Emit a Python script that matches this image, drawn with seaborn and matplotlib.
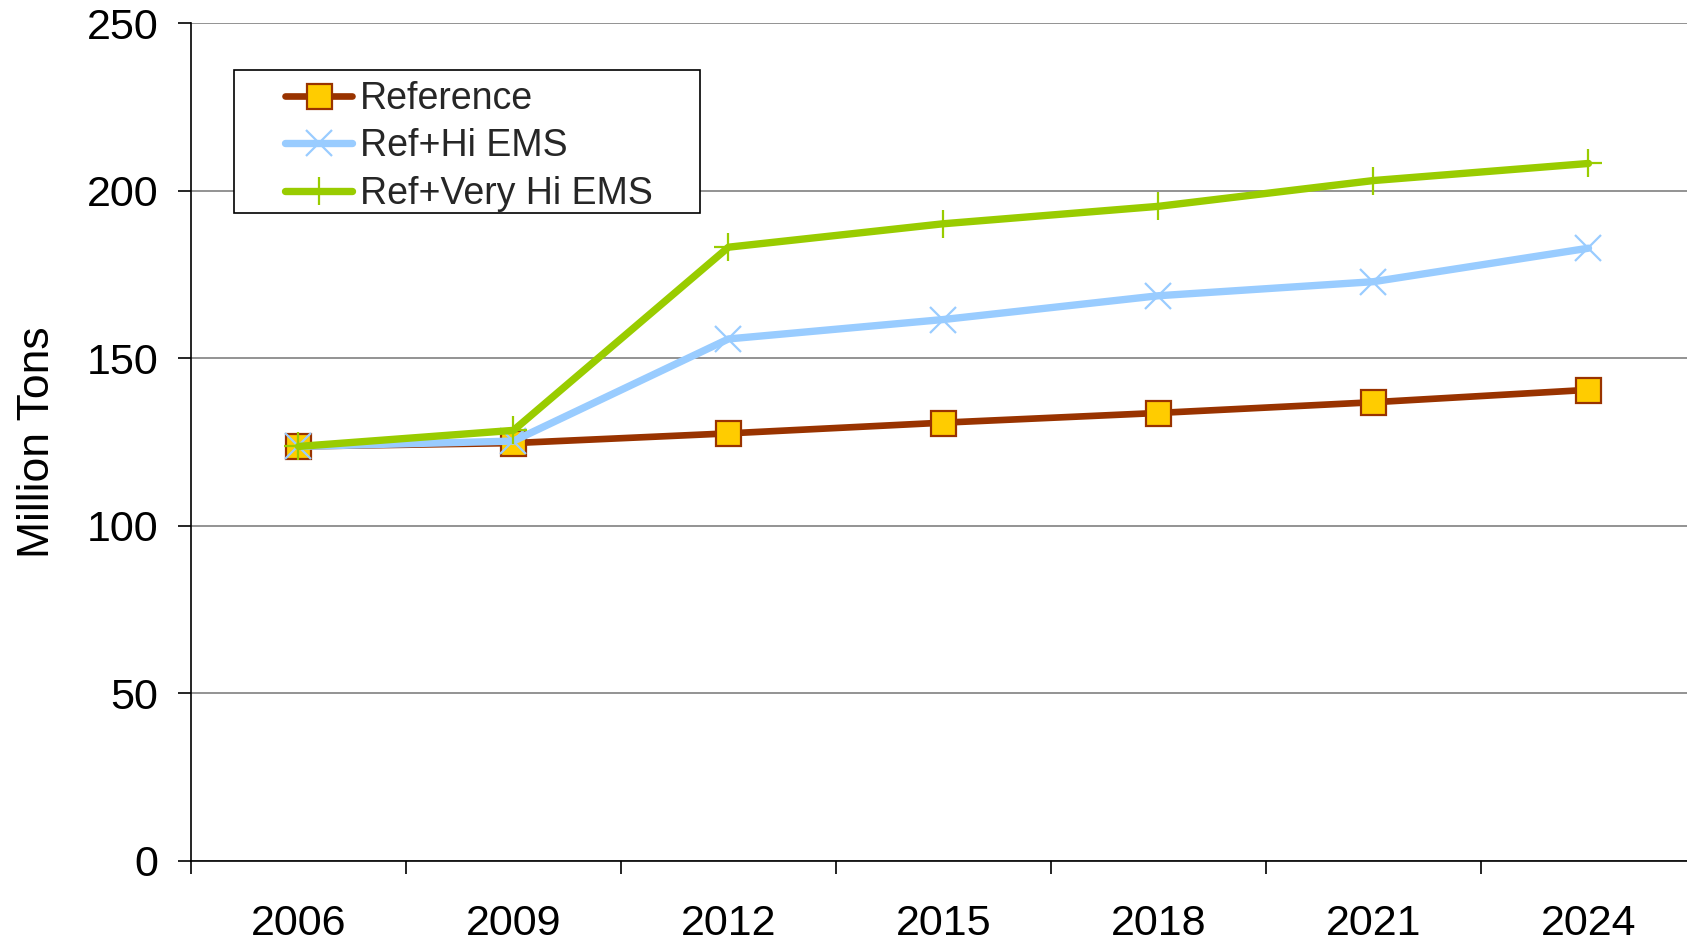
import matplotlib

matplotlib.use("Agg")
import matplotlib.pyplot as plt
import numpy as np
import pandas as pd
import seaborn as sns
from matplotlib.patches import Rectangle

years = ["2006", "2009", "2012", "2015", "2018", "2021", "2024"]
reference = [123.7, 124.7, 127.6, 130.8, 133.7, 136.9, 140.6]
ref_hi_ems = [123.7, 125.3, 155.8, 161.6, 168.7, 172.9, 182.9]
ref_very_hi_ems = [123.7, 128.5, 183.2, 190.2, 195.4, 203.1, 208.2]
y_ticks = [0, 50, 100, 150, 200, 250]

sns.set_theme(style="white")
plt.rcParams["font.family"] = ["Liberation Sans", "DejaVu Sans"]

fig = plt.figure(figsize=(16.87, 9.43), dpi=100)
ax = fig.add_axes([0.1132, 0.0873, 0.8868, 0.8878])

pos = np.arange(len(years))
series = [
    ("Reference", reference, dict(color="#993300", marker="s", markersize=18,
                                  markerfacecolor="#FFCC00", markeredgecolor="#993300",
                                  markeredgewidth=1.6, linewidth=4.8)),
    ("Ref+Hi EMS", ref_hi_ems, dict(color="#99CCFF", marker="x", markersize=19,
                                    markeredgecolor="#99CCFF", markeredgewidth=1.6,
                                    linewidth=5.3)),
    ("Ref+Very Hi EMS", ref_very_hi_ems, dict(color="#99CC00", marker="+", markersize=20,
                                              markeredgecolor="#99CC00", markeredgewidth=1.6,
                                              linewidth=5.3)),
]
for name, values, style in series:
    df = pd.DataFrame({"pos": pos, "value": values})
    sns.lineplot(data=df, x="pos", y="value", ax=ax, label=name, **style)

# category axis: labels at centres, tick marks on the category boundaries
ax.set_yticks(y_ticks)
ax.set_xticks(pos)
ax.set_xticklabels(years)
ax.set_xticks(np.arange(-0.5, len(years) - 1, 1.0), minor=True)
ax.set_ylim(0, 250)
ax.set_xlim(-0.5, -0.5 + 1496 / 215)
ax.tick_params(axis="x", which="both", bottom=True)
ax.tick_params(axis="y", which="major", left=True)
ax.tick_params(axis="x", which="major", length=0, pad=31, labelsize=31)
ax.tick_params(axis="x", which="minor", length=9, width=1.2, color="black", direction="out")
ax.tick_params(axis="y", length=9.4, width=1.2, color="black", direction="out", pad=14, labelsize=31)
ax.tick_params(axis="both", labelcolor="black")

ax.grid(axis="y", color="#808080", linewidth=1.2)
ax.grid(axis="x", visible=False)
for side in ("top", "right"):
    ax.spines[side].set_visible(False)
for side in ("left", "bottom"):
    ax.spines[side].set_color("black")
    ax.spines[side].set_linewidth(1.2)
ax.set_axisbelow(True)

ax.set_xlabel("")
ax.set_ylabel("Million Tons", fontsize=32, color="black")
ax.yaxis.set_label_coords(-0.089, 0.5)

ax.add_patch(Rectangle((0.029, 0.7737), 0.3115, 0.1708, transform=ax.transAxes,
                       facecolor="white", edgecolor="black", linewidth=1.2, zorder=4))
leg = ax.legend(loc="upper left", bbox_to_anchor=(0.0628, 0.931), frameon=False,
                fontsize=27, handlelength=1.8, handletextpad=0.2, labelspacing=0.3,
                borderpad=0, borderaxespad=0)
leg.set_zorder(5)

fig.savefig("out.png", dpi=100)
